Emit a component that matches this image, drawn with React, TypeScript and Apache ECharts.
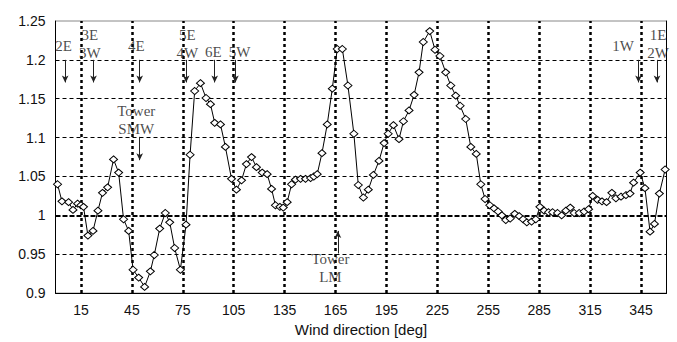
import React, { useEffect, useRef } from "react";
import * as echarts from "echarts";

// Wind direction (deg) and measured ratio
const directions = [
  1.2, 3.8, 7.7, 10.3, 13.0, 15.0, 16.5, 19.1, 22.1, 25.0, 27.7, 30.7, 34.2, 37.2, 40.1, 43.1,
  45.7, 49.0, 52.5, 55.9, 58.2, 61.4, 64.7, 67.3, 70.2, 73.6, 76.9, 79.3, 82.0, 85.4, 88.7,
  91.3, 93.8, 97.2, 100.1, 103.7, 106.6, 109.6, 112.5, 115.5, 118.4, 121.8, 124.7, 127.3,
  129.6, 132.2, 134.2, 136.5, 139.1, 141.4, 144.4, 147.3, 150.3, 152.2, 154.2, 157.0, 160.1,
  163.1, 166.0, 169.0, 172.3, 175.8, 178.4, 181.4, 184.3, 187.3, 190.6, 193.6, 196.0, 199.1,
  202.4, 205.0, 208.3, 211.3, 214.2, 216.7, 220.5, 223.6, 226.5, 229.9, 232.9, 235.8, 238.4,
  241.7, 244.7, 247.9, 250.6, 253.1, 255.9, 258.4, 260.8, 263.0, 265.3, 267.9, 270.6, 273.2,
  275.5, 277.7, 280.5, 283.0, 285.4, 287.9, 290.5, 292.9, 295.8, 298.2, 300.7, 303.3, 305.6,
  308.6, 311.5, 314.1, 316.5, 319.4, 322.0, 324.7, 327.8, 330.2, 333.2, 336.1, 338.5, 340.6,
  344.5, 347.3, 350.3, 352.9, 355.8, 359.2,
];
const ratios = [
  1.040, 1.018, 1.017, 1.007, 1.015, 1.013, 1.011, 0.974, 0.980, 1.006, 1.029, 1.036, 1.072, 1.055, 0.995, 0.980,
  0.930, 0.920, 0.908, 0.928, 0.949, 0.983, 1.003, 0.991, 0.958, 0.930, 0.988, 1.078, 1.160, 1.170, 1.151,
  1.143, 1.119, 1.117, 1.088, 1.047, 1.033, 1.045, 1.066, 1.075, 1.062, 1.055, 1.053, 1.034,
  1.013, 1.011, 1.010, 1.017, 1.040, 1.046, 1.047, 1.047, 1.048, 1.050, 1.053, 1.080, 1.117,
  1.163, 1.214, 1.214, 1.167, 1.105, 1.039, 1.023, 1.033, 1.052, 1.070, 1.093, 1.105, 1.116,
  1.098, 1.121, 1.135, 1.155, 1.184, 1.223, 1.237, 1.213, 1.205, 1.184, 1.167, 1.154, 1.141,
  1.124, 1.088, 1.079, 1.040, 1.021, 1.013, 1.009, 1.005, 1.000, 0.994, 0.996, 1.002, 0.999,
  0.995, 0.991, 0.992, 0.995, 1.011, 1.006, 1.004, 1.004, 1.003, 1.000, 1.006, 1.010, 1.003,
  1.003, 1.005, 1.008, 1.025, 1.020, 1.018, 1.017, 1.029, 1.022, 1.024, 1.026, 1.028, 1.042,
  1.055, 1.035, 0.979, 0.989, 1.028, 1.059,
];

const xTicks = [15, 45, 75, 105, 135, 165, 195, 225, 255, 285, 315, 345];
const yGrid = [0.95, 1.05, 1.1, 1.15, 1.2];

// Annotation labels: text, x (deg), y (ratio)
const annotTexts = ["2E", "3E\n3W", "4E", "5E\n4W", "6E", "5W", "1W", "1E\n2W", "Tower\nSMW", "Tower\nLM"];
const annotX = [4.8, 20.2, 47.6, 77.7, 93.0, 108.4, 334.4, 355.0, 47.6, 162.0];
const annotY = [1.2175, 1.2206, 1.2175, 1.2206, 1.21, 1.21, 1.2175, 1.2206, 1.123, 0.932];

// Arrows: x (deg), start y, end y (arrowhead at end)
const arrowX = [5.7, 22.4, 49.6, 77.0, 93.8, 106.0, 343.5, 354.4, 49.6, 166.4];
const arrowFrom = [1.2, 1.2, 1.2, 1.2, 1.2, 1.2, 1.2, 1.2, 1.101, 0.951];
const arrowTo = [1.171, 1.171, 1.171, 1.171, 1.171, 1.171, 1.171, 1.171, 1.071, 0.98];

export default function App() {
  const ref = useRef<HTMLDivElement>(null);
  useEffect(() => {
    if (!ref.current) return;
    const chart = echarts.init(ref.current, null, { renderer: "svg" });
    const lineData = directions.map((d, i) => [d, ratios[i]]);
    chart.setOption({
      animation: false,
      backgroundColor: "#fff",
      grid: {
        left: 55.5,
        right: 10.5,
        top: 21,
        bottom: 41.5,
        show: true,
        borderColor: "#888",
        borderWidth: 1,
      },
      xAxis: {
        type: "value",
        min: 0,
        max: 360,
        interval: 15,
        name: "Wind direction [deg]",
        nameLocation: "middle",
        nameGap: 25,
        nameTextStyle: { fontFamily: "Liberation Sans, Arial", fontSize: 15, color: "#111" },
        axisLine: { lineStyle: { color: "#000", width: 1 } },
        axisTick: { show: false },
        splitLine: { show: false },
        axisLabel: {
          fontFamily: "Liberation Sans, Arial",
          fontSize: 14,
          color: "#111",
          margin: 10,
          formatter: (v: number) => (xTicks.indexOf(Math.round(v)) >= 0 ? String(Math.round(v)) : ""),
        },
      },
      yAxis: [
        {
          type: "value",
          min: 0.9,
          max: 1.25,
          interval: 0.05,
          axisLine: { show: true, lineStyle: { color: "#000", width: 1 } },
          axisTick: { show: false },
          axisLabel: {
            fontFamily: "Liberation Sans, Arial",
            fontSize: 14,
            color: "#111",
            margin: 10,
            formatter: (v: number) => String(+v.toFixed(2)),
          },
          splitLine: { show: false },
        },
        {
          type: "value",
          min: 0.9,
          max: 1.25,
          interval: 0.05,
          position: "right",
          axisLine: { show: true, lineStyle: { color: "#000", width: 1 } },
          axisTick: { show: false },
          axisLabel: { show: false },
          splitLine: { show: false },
        },
      ],
      series: [
        {
          type: "line",
          data: [],
          silent: true,
          z: 1,
          markLine: {
            silent: true,
            symbol: ["none", "none"],
            label: { show: false },
            lineStyle: { color: "#000", width: 2.5, type: [3, 3], opacity: 1 },
            data: [
              ...xTicks.map((t) => ({ xAxis: t })),
              ...yGrid.map((g) => ({ yAxis: g, lineStyle: { color: "#000", width: 1, type: [4, 3], opacity: 1 } })),
              { yAxis: 1, lineStyle: { color: "#000", width: 2, type: [5, 2], opacity: 1 } },
            ],
          },
        },
        {
          type: "line",
          data: lineData,
          z: 5,
          symbol: "diamond",
          symbolSize: [8, 7],
          showSymbol: true,
          lineStyle: { color: "#000", width: 1 },
          itemStyle: { color: "#fff", borderColor: "#000", borderWidth: 1 },
        },
        {
          type: "scatter",
          z: 6,
          silent: true,
          symbol: "circle",
          symbolSize: 1,
          itemStyle: { color: "transparent" },
          data: annotTexts.map((t, i) => ({ name: t, value: [annotX[i], annotY[i]] })),
          label: {
            show: true,
            position: "inside",
            formatter: "{b}",
            fontFamily: "Liberation Serif, Times New Roman",
            fontSize: 15,
            lineHeight: 18,
            color: "#1a1a1a",
            align: "center",
            verticalAlign: "middle",
          },
          markLine: {
            silent: true,
            symbol: ["none", "arrow"],
            symbolSize: [5, 7],
            label: { show: false },
            lineStyle: { color: "#222", width: 1, type: "solid", opacity: 1 },
            data: arrowX.map((x, i) => [
              { coord: [x, arrowFrom[i]] },
              { coord: [x, arrowTo[i]] },
            ]),
          },
        },
      ],
    });
    return () => chart.dispose();
  }, []);
  return (
    <div
      ref={ref}
      style={{ position: "absolute", left: 0, top: 0, width: 677, height: 342, background: "#fff" }}
    />
  );
}
